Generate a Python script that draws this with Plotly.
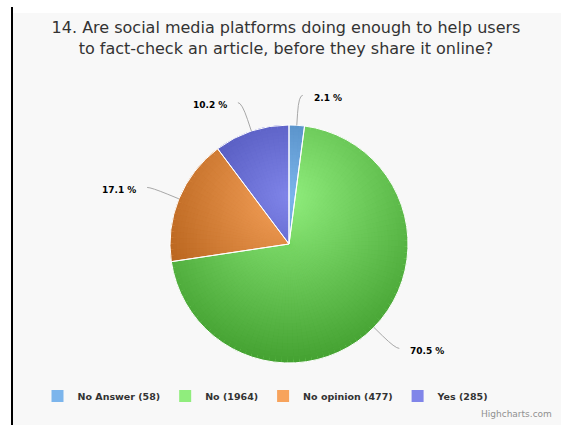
import math
import numpy as np
import plotly.graph_objects as go

# ---- survey data ----
categories = ["No Answer", "No", "No opinion", "Yes"]
counts = [58, 1964, 477, 285]
base_colors = ["#7cb5ec", "#90ed7d", "#f7a35c", "#8085e9"]
title_text = ("14. Are social media platforms doing enough to help users<br>"
              "to fact-check an article, before they share it online?")

# ---- canvas / pie geometry (pixels) ----
W, H = 561, 425
CX, CY, R = 289, 244, 119
FONT = "DejaVu Sans"


def px(x):
    return x / W


def py(y):
    return 1 - y / H


def domain_for(r):
    return dict(x=[px(CX - r), px(CX + r)], y=[py(CY + r), py(CY - r)])


def hex_rgb(h):
    h = h.lstrip("#")
    return [int(h[i:i + 2], 16) for i in (0, 2, 4)]


# radial gradient shared by the whole pie: light near (CX, CY-0.4R), 30% darker at 1.4R
G_X, G_Y, G_R = CX, CY - 0.4 * R, 1.4 * R


def shade(base, x, y):
    t = min(1.0, math.hypot(x - G_X, y - G_Y) / G_R)
    rgb = [max(0, min(255, round(c - 76 * t))) for c in hex_rgb(base)]
    return "rgb({},{},{})".format(*rgb)


total = sum(counts)
fracs = [c / total for c in counts]

fig = go.Figure()

# base pie (carries the legend)
fig.add_trace(go.Pie(
    labels=[f"{c} ({n})" for c, n in zip(categories, counts)],
    values=counts, sort=False, direction="clockwise", rotation=0,
    marker=dict(colors=base_colors, line=dict(width=0)),
    textinfo="none", hoverinfo="label+percent", domain=domain_for(R),
))

# gradient shading: concentric rings, each split into narrow sub-sectors of the same slices
N_RINGS = 36
STEP_DEG = 3.0
sub_vals, sub_mid, sub_cat = [], [], []
start = 0.0
for i, c in enumerate(counts):
    span = 360.0 * c / total
    n = max(1, math.ceil(span / STEP_DEG))
    for j in range(n):
        sub_vals.append(c / n)
        sub_mid.append(start + span * (j + 0.5) / n)
        sub_cat.append(i)
    start += span

for k in range(N_RINGS, 0, -1):
    rk = R * k / N_RINGS
    rm = R * (k - 0.5) / N_RINGS
    cols = []
    for a, ci in zip(sub_mid, sub_cat):
        ar = math.radians(a)
        cols.append(shade(base_colors[ci], CX + rm * math.sin(ar), CY - rm * math.cos(ar)))
    fig.add_trace(go.Pie(
        values=sub_vals, sort=False, direction="clockwise", rotation=0,
        marker=dict(colors=cols, line=dict(width=0)),
        textinfo="none", hoverinfo="skip", showlegend=False,
        domain=domain_for(rk),
    ))

# white slice borders on top
fig.add_trace(go.Pie(
    labels=categories, values=counts, sort=False, direction="clockwise", rotation=0,
    marker=dict(colors=["rgba(0,0,0,0)"] * len(counts), line=dict(color="#ffffff", width=1)),
    textinfo="none", hoverinfo="skip", showlegend=False, domain=domain_for(R),
))

# ---- data labels with connectors ----
shapes = [
    dict(type="rect", xref="paper", yref="paper", x0=px(13), x1=1, y0=0, y1=py(13),
         fillcolor="#f8f8f8", line=dict(width=0), layer="below"),
    dict(type="line", xref="paper", yref="paper", x0=px(12), x1=px(12), y0=0, y1=py(7),
         line=dict(color="#000000", width=2)),
]
annotations = []
cum = 0.0
for c, f in zip(counts, fracs):
    mid = math.radians(360.0 * (cum + f / 2))
    cum += f
    ux, uy = math.sin(mid), -math.cos(mid)
    ex, ey = CX + R * ux, CY + R * uy
    bx, by = CX + (R + 12) * ux, CY + (R + 12) * uy
    lx, ly = CX + (R + 30) * ux, CY + (R + 30) * uy
    side = 1 if ux >= 0 else -1
    endx = lx + 4 * side
    path = (f"M {px(ex)},{py(ey)} L {px(bx)},{py(by)} "
            f"Q {px(lx)},{py(ly)} {px(endx)},{py(ly)}")
    shapes.append(dict(type="path", xref="paper", yref="paper", path=path,
                       line=dict(color="#a8a8a8", width=1)))
    annotations.append(dict(
        x=px(lx + 13 * side), y=py(ly + 2.5), xref="paper", yref="paper",
        text=f"{100 * f:.1f} %", showarrow=False,
        xanchor="left" if side > 0 else "right", yanchor="middle",
        font=dict(family=FONT, size=9, color="#000000", weight="bold"),
    ))

annotations.append(dict(
    x=px(554), y=py(414), xref="paper", yref="paper", text="Highcharts.com",
    showarrow=False, xanchor="right", yanchor="middle",
    font=dict(family=FONT, size=9, color="#909090"),
))

fig.update_layout(
    width=W, height=H,
    margin=dict(l=0, r=0, t=0, b=0),
    paper_bgcolor="#ffffff",
    title=dict(text=title_text, x=px(286), xanchor="center", y=py(33), yanchor="top",
               xref="paper", yref="container",
               font=dict(family=FONT, size=16, color="#333333")),
    legend=dict(orientation="h", x=px(266), xanchor="center", y=py(396), yanchor="middle",
                bgcolor="rgba(0,0,0,0)",
                font=dict(family=FONT, size=9.5, color="#333333", weight="bold")),
    shapes=shapes,
    annotations=annotations,
)

fig.write_html("out.html")
